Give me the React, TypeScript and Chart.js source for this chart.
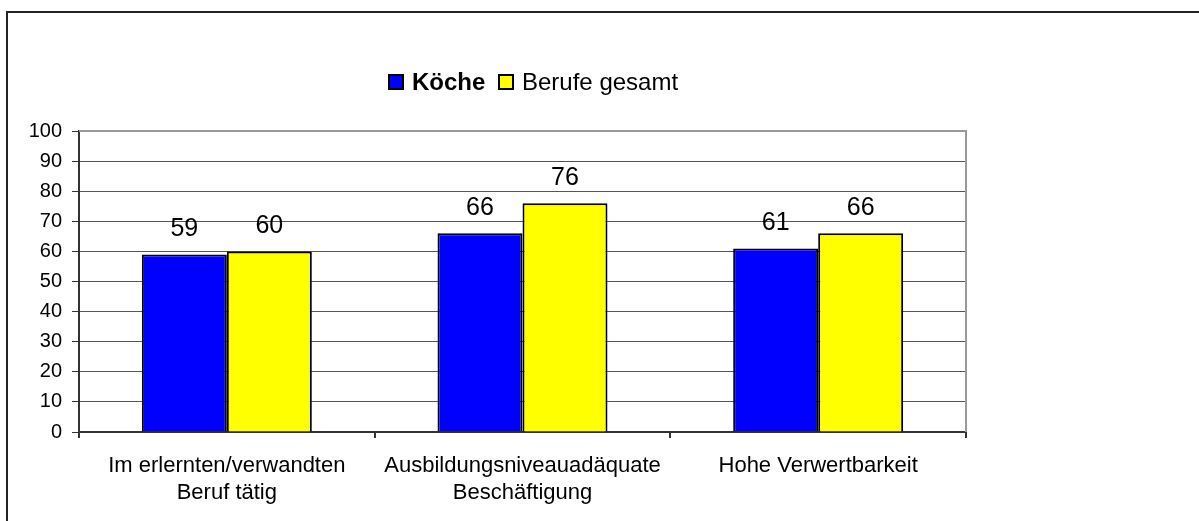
import React, { useEffect, useRef } from "react";
import { Chart, registerables } from "chart.js";

Chart.register(...registerables);

const categories: string[][] = [
  ["Im erlernten/verwandten", "Beruf tätig"],
  ["Ausbildungsniveauadäquate", "Beschäftigung"],
  ["Hohe Verwertbarkeit"],
];
const seriesNames = ["Köche", "Berufe gesamt"];
const koecheValues = [59, 66, 61];
const gesamtValues = [60, 76, 66];
const seriesColors = ["#0000FF", "#FFFF00"];
const yTicks = [0, 10, 20, 30, 40, 50, 60, 70, 80, 90, 100];

const FONT = "'Liberation Sans', Arial, sans-serif";

const framePlugin = {
  id: "frameAndExtras",
  beforeDraw(chart: any) {
    const ctx = chart.ctx;
    ctx.save();
    ctx.fillStyle = "#fff";
    ctx.fillRect(0, 0, chart.width, chart.height);
    ctx.restore();
  },
  afterDraw(chart: any) {
    const ctx = chart.ctx;
    const a = chart.chartArea;
    ctx.save();
    // outer frame
    ctx.strokeStyle = "#222";
    ctx.lineWidth = 2;
    ctx.beginPath();
    ctx.moveTo(7, chart.height + 2);
    ctx.lineTo(7, 12);
    ctx.lineTo(chart.width + 2, 12);
    ctx.stroke();
    // plot area border top/right
    ctx.strokeStyle = "#999";
    ctx.lineWidth = 2;
    ctx.beginPath();
    ctx.moveTo(a.left, a.top);
    ctx.lineTo(a.right, a.top);
    ctx.lineTo(a.right, a.bottom);
    ctx.stroke();
    ctx.restore();

    // legend
    ctx.save();
    const ly = 82;
    const box = 14;
    const items = [
      { x: 389, label: seriesNames[0], bold: true, color: seriesColors[0] },
      { x: 499, label: seriesNames[1], bold: false, color: seriesColors[1] },
    ];
    items.forEach((it) => {
      ctx.fillStyle = it.color;
      ctx.fillRect(it.x, ly - box / 2, box, box);
      ctx.strokeStyle = "#000";
      ctx.lineWidth = 2;
      ctx.strokeRect(it.x, ly - box / 2, box, box);
      ctx.fillStyle = "#000";
      ctx.font = `${it.bold ? "bold " : ""}24px ${FONT}`;
      ctx.textBaseline = "middle";
      ctx.textAlign = "left";
      ctx.fillText(it.label, it.x + box + 9, ly + 1);
    });
    ctx.restore();
  },
  afterDatasetsDraw(chart: any) {
    const ctx = chart.ctx;
    ctx.save();
    ctx.fillStyle = "#000";
    ctx.font = `25px ${FONT}`;
    ctx.textAlign = "center";
    ctx.textBaseline = "alphabetic";
    chart.data.datasets.forEach((ds: any, i: number) => {
      const meta = chart.getDatasetMeta(i);
      meta.data.forEach((bar: any, j: number) => {
        ctx.fillText(String(ds.data[j]), bar.x, bar.y - 18);
      });
    });
    ctx.restore();
  },
};

export default function App() {
  const ref = useRef<HTMLCanvasElement>(null);
  useEffect(() => {
    if (!ref.current) return;
    const chart = new Chart(ref.current, {
      type: "bar",
      data: {
        labels: categories,
        datasets: [
          {
            label: seriesNames[0],
            data: koecheValues,
            backgroundColor: seriesColors[0],
            borderColor: "#000",
            borderWidth: 2,
            barPercentage: 1,
            categoryPercentage: 0.575,
          },
          {
            label: seriesNames[1],
            data: gesamtValues,
            backgroundColor: seriesColors[1],
            borderColor: "#000",
            borderWidth: 2,
            barPercentage: 1,
            categoryPercentage: 0.575,
          },
        ],
      },
      options: {
        responsive: false,
        animation: false,
        layout: { padding: { top: 131, right: 233, left: 0, bottom: 0 } },
        plugins: {
          legend: { display: false },
          tooltip: { enabled: false },
        },
        scales: {
          y: {
            min: 0,
            max: 100,
            afterBuildTicks: (s: any) => {
              s.ticks = yTicks.map((v) => ({ value: v }));
            },
            afterFit: (s: any) => {
              s.width = 79;
            },
            ticks: {
              color: "#000",
              font: { family: FONT, size: 20 },
              padding: 10,
            },
            grid: {
              color: "#555",
              lineWidth: 1,
              tickLength: 7,
              tickColor: "#333",
            },
            border: { color: "#333", width: 2 },
          },
          x: {
            afterFit: (s: any) => {
              s.height = 89;
            },
            ticks: {
              color: "#000",
              font: { family: FONT, size: 22, lineHeight: 1.2 },
              padding: 15,
              maxRotation: 0,
              autoSkip: false,
            },
            grid: {
              offset: true,
              drawOnChartArea: false,
              tickLength: 6,
              color: "#333",
              lineWidth: 2,
            },
            border: { color: "#333", width: 2 },
          },
        },
      },
      plugins: [framePlugin],
    });
    return () => chart.destroy();
  }, []);
  return (
    <div style={{ position: "absolute", left: 0, top: 0, width: 1199, height: 521 }}>
      <canvas ref={ref} width={1199} height={521} style={{ width: 1199, height: 521, display: "block" }} />
    </div>
  );
}
